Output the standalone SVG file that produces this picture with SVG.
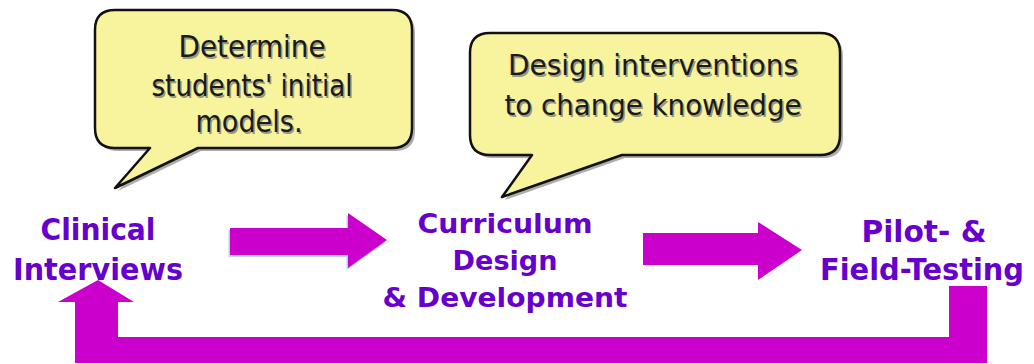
<svg xmlns="http://www.w3.org/2000/svg" width="1034" height="364" viewBox="0 0 1034 364">
  <style>
    .bubble { fill: #F8F49E; stroke: #111; stroke-width: 2.5; stroke-linejoin: round; }
    .bshadow { fill: #8a8a8a; opacity: 0.7; }
    .btxt { font-family: "DejaVu Sans", Verdana, sans-serif; fill: #1a1a1a; text-anchor: middle; }
    .btxs { font-family: "DejaVu Sans", Verdana, sans-serif; fill: #9a9a80; text-anchor: middle; }
    .b1 { font-size: 31px; }
    .b2 { font-size: 28px; }
    .lbl { font-family: "DejaVu Sans Condensed", "DejaVu Sans", sans-serif; font-size: 31px; font-weight: bold; fill: #6600CC; text-anchor: middle; }
    .mid { font-size: 27px; }
    .arrow { fill: #CC00CC; }
    .ashadow { fill: #A8DCE0; }
  </style>
  <rect width="1034" height="364" fill="#ffffff"/>

  <g id="bubble-initial-models">
    <path class="bshadow" transform="translate(3,3)" d="M115,10 H392 Q412,10 412,30 V128 Q412,148 392,148 H198 L115,188 L150,148 H115 Q95,148 95,128 V30 Q95,10 115,10 Z"/>
    <path class="bubble" d="M115,10 H392 Q412,10 412,30 V128 Q412,148 392,148 H198 L115,188 L150,148 H115 Q95,148 95,128 V30 Q95,10 115,10 Z"/>
    <g class="btxs b1" transform="translate(1.5,1.5)">
      <text x="252" y="57" textLength="147" lengthAdjust="spacingAndGlyphs">Determine</text>
      <text x="252" y="96" textLength="201" lengthAdjust="spacingAndGlyphs">students' initial</text>
      <text x="249" y="132" textLength="107" lengthAdjust="spacingAndGlyphs">models.</text>
    </g>
    <text class="btxt b1" x="252" y="57" textLength="147" lengthAdjust="spacingAndGlyphs">Determine</text>
    <text class="btxt b1" x="252" y="96" textLength="201" lengthAdjust="spacingAndGlyphs">students' initial</text>
    <text class="btxt b1" x="249" y="132" textLength="107" lengthAdjust="spacingAndGlyphs">models.</text>
  </g>

  <g id="bubble-interventions">
    <path class="bshadow" transform="translate(3,3)" d="M490,33 H820 Q840,33 840,53 V135 Q840,155 820,155 H622 L502,197 L532,155 H490 Q470,155 470,135 V53 Q470,33 490,33 Z"/>
    <path class="bubble" d="M490,33 H820 Q840,33 840,53 V135 Q840,155 820,155 H622 L502,197 L532,155 H490 Q470,155 470,135 V53 Q470,33 490,33 Z"/>
    <g class="btxs b2" transform="translate(1.5,1.5)">
      <text x="653" y="75" textLength="290" lengthAdjust="spacingAndGlyphs">Design interventions</text>
      <text x="653" y="115" textLength="297" lengthAdjust="spacingAndGlyphs">to change knowledge</text>
    </g>
    <text class="btxt b2" x="653" y="75" textLength="290" lengthAdjust="spacingAndGlyphs">Design interventions</text>
    <text class="btxt b2" x="653" y="115" textLength="297" lengthAdjust="spacingAndGlyphs">to change knowledge</text>
  </g>

  <g id="node-clinical-interviews">
    <text class="lbl" x="98" y="240" textLength="115" lengthAdjust="spacingAndGlyphs">Clinical</text>
    <text class="lbl" x="98" y="280" textLength="170" lengthAdjust="spacingAndGlyphs">Interviews</text>
  </g>

  <g id="node-curriculum">
    <text class="lbl mid" x="505" y="233" textLength="175" lengthAdjust="spacingAndGlyphs">Curriculum</text>
    <text class="lbl mid" x="505" y="270" textLength="105" lengthAdjust="spacingAndGlyphs">Design</text>
    <text class="lbl mid" x="505" y="307" textLength="245" lengthAdjust="spacingAndGlyphs">&amp; Development</text>
  </g>

  <g id="node-pilot-testing">
    <text class="lbl" x="924" y="242" textLength="125" lengthAdjust="spacingAndGlyphs">Pilot- &amp;</text>
    <text class="lbl" x="922" y="280" textLength="204" lengthAdjust="spacingAndGlyphs">Field-Testing</text>
  </g>

  <g id="connectors">
    <polygon class="ashadow" transform="translate(-1.5,2)" points="230,228 348,228 348,213 387,240 348,268 348,255 230,255"/>
    <polygon class="arrow" points="230,228 348,228 348,213 387,240 348,268 348,255 230,255"/>
    <polygon class="arrow" points="643,233 758,233 758,222 802,250 758,280 758,265 643,265"/>
    <polygon class="arrow" points="949,286 987,286 987,363 75,363 75,302 58,302 98,280 134,302 118,302 118,337 949,337"/>
  </g>
</svg>
